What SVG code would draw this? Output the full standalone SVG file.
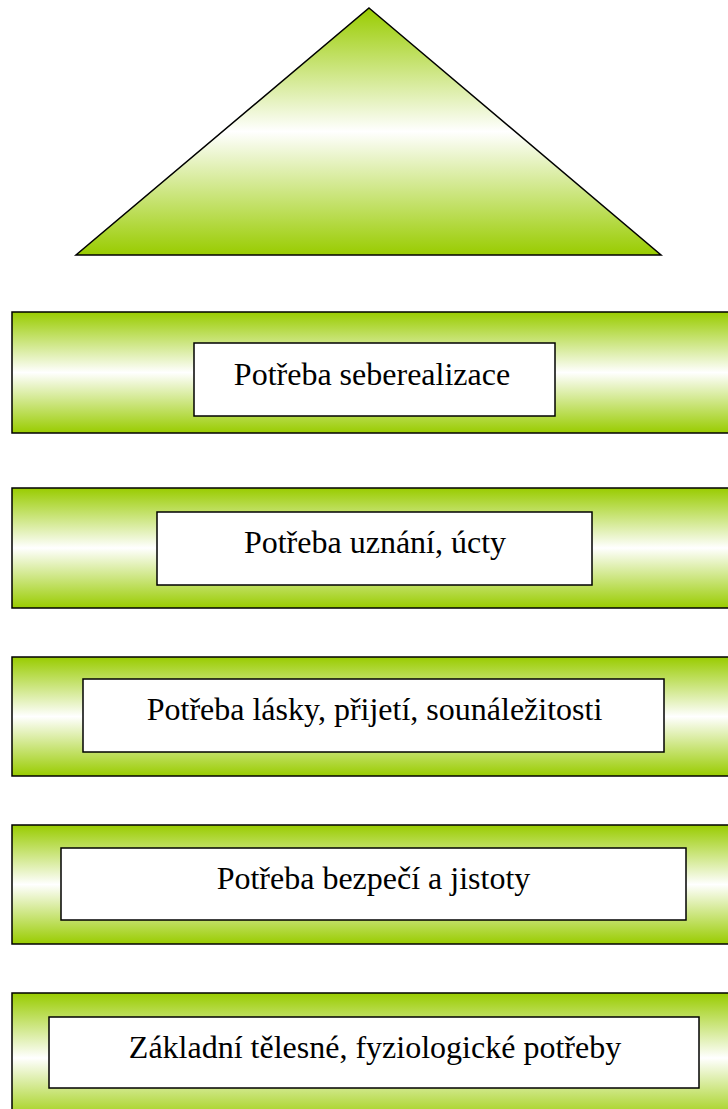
<svg xmlns="http://www.w3.org/2000/svg" width="728" height="1109" viewBox="0 0 728 1109">
<style>
.bar{fill:url(#g);stroke:#000;stroke-width:1.5}
.box{fill:#fff;stroke:#000;stroke-width:1.5}
.t{font-family:"Liberation Serif","Times New Roman",serif;font-size:32px;fill:#000;text-anchor:middle}
</style>
<defs>
<linearGradient id="g" x1="0" y1="0" x2="0" y2="1">
<stop offset="0" stop-color="#99cc00"/>
<stop offset="0.5" stop-color="#ffffff"/>
<stop offset="1" stop-color="#99cc00"/>
</linearGradient>
</defs>
<g id="top">
<polygon points="369,8 661,255 76,255" class="bar"/>
</g>
<g id="n1">
<rect x="12" y="312" width="730" height="121" class="bar"/>
<rect x="194" y="343" width="361" height="73" class="box"/>
<text x="372" y="385" class="t">Potřeba seberealizace</text>
</g>
<g id="n2">
<rect x="12" y="488" width="730" height="120" class="bar"/>
<rect x="157" y="512" width="435" height="73" class="box"/>
<text x="375" y="553" class="t">Potřeba uznání, úcty</text>
</g>
<g id="n3">
<rect x="12" y="657" width="730" height="119" class="bar"/>
<rect x="83" y="679" width="581" height="73" class="box"/>
<text x="374.5" y="720" class="t">Potřeba lásky, přijetí, sounáležitosti</text>
</g>
<g id="n4">
<rect x="12" y="825" width="730" height="119" class="bar"/>
<rect x="61" y="848" width="625" height="72" class="box"/>
<text x="373.5" y="889" class="t">Potřeba bezpečí a jistoty</text>
</g>
<g id="n5">
<rect x="12" y="993" width="730" height="130" class="bar"/>
<rect x="49" y="1017" width="650" height="71" class="box"/>
<text x="375" y="1058" class="t">Základní tělesné, fyziologické potřeby</text>
</g>
<g id="connectors"/>
</svg>
